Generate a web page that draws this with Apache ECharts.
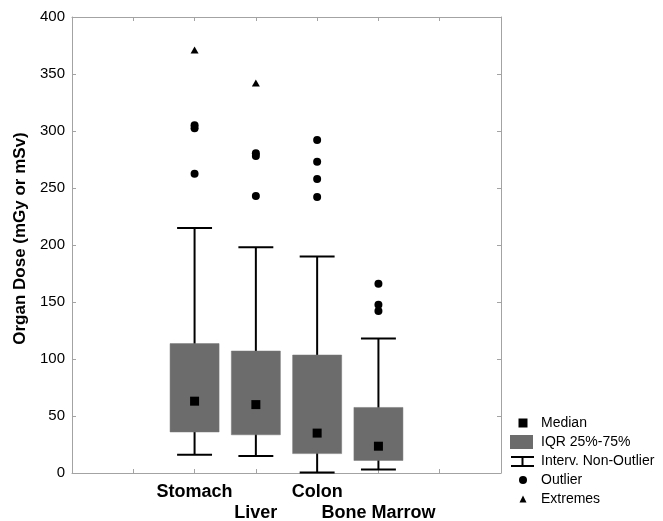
<!DOCTYPE html>
<html>
<head>
<meta charset="utf-8">
<script src="https://cdn.jsdelivr.net/npm/echarts@6/dist/echarts.min.js"></script>
<style>html,body{margin:0;padding:0;background:#fff;}#c{width:663px;height:521px;}</style>
</head>
<body>
<div id="c"></div>
<script>
const categories = ['Stomach', 'Liver', 'Colon', 'Bone Marrow'];
const whiskerLow = [16, 15, 0.5, 3];
const q1 = [36, 33.5, 17, 11];
const median = [63, 60, 35, 23.5];
const q3 = [113.5, 107, 103.5, 57.5];
const whiskerHigh = [215, 198, 190, 118];
const outliers = [[305, 302.5, 262.5], [280.5, 278, 243], [292, 273, 258, 242], [166, 147.5, 142]];
const extremes = [[371], [342], [], []];
const yTicks = [0, 50, 100, 150, 200, 250, 300, 350, 400];

const FONT = '"Liberation Sans", Arial, sans-serif';
const AXIS_GRAY = '#a3a3a3';
const BOX_GRAY = '#6c6c6c';
const pos = i => i + 2;

const whiskerData = categories.map((c, i) => [pos(i), whiskerLow[i], whiskerHigh[i]]);
const boxData = categories.map((c, i) => [pos(i), q1[i], q3[i]]);
const medianData = categories.map((c, i) => [pos(i), median[i]]);
const outlierData = [];
outliers.forEach((arr, i) => arr.forEach(v => outlierData.push([pos(i), v])));
const extremeData = [];
extremes.forEach((arr, i) => arr.forEach(v => extremeData.push([pos(i), v])));

const chart = echarts.init(document.getElementById('c'), null, {renderer: 'canvas'});
const axisLine = {show: true, onZero: false, lineStyle: {color: AXIS_GRAY, width: 1}};
const tickInside = len => ({show: true, inside: true, length: len, lineStyle: {color: AXIS_GRAY, width: 1}});

chart.setOption({
  animation: false,
  backgroundColor: '#fff',
  textStyle: {fontFamily: FONT},
  grid: {left: 72, right: 162, top: 17, bottom: 48, containLabel: false, outerBoundsMode: 'none'},
  xAxis: [{
    type: 'value', min: 0, max: 7, interval: 1,
    axisLine: axisLine, axisTick: tickInside(4), splitLine: {show: false},
    axisLabel: {
      margin: 9, interval: 0, fontFamily: FONT, fontSize: 18, fontWeight: 'bold', color: '#000', lineHeight: 21,
      formatter: v => {
        const i = v - 2;
        if (i < 0 || i >= categories.length) return '';
        return (i % 2 === 1 ? '\n' : '') + categories[i];
      }
    }
  }, {
    type: 'value', position: 'top', min: 0, max: 7, interval: 1,
    axisLine: axisLine, axisTick: tickInside(4), axisLabel: {show: false}, splitLine: {show: false}
  }],
  yAxis: [{
    type: 'value', min: yTicks[0], max: yTicks[yTicks.length - 1], interval: 50,
    name: 'Organ Dose (mGy or mSv)', nameLocation: 'middle', nameRotate: 90, nameGap: 40,
    nameTextStyle: {fontFamily: FONT, fontSize: 17, fontWeight: 'bold', color: '#000', padding: [0, 0, 0, 13]},
    axisLine: axisLine, axisTick: tickInside(4), splitLine: {show: false},
    axisLabel: {margin: 7, fontFamily: FONT, fontSize: 15, color: '#000'}
  }, {
    type: 'value', position: 'right', min: 0, max: 400, interval: 50,
    axisLine: axisLine, axisTick: tickInside(4), axisLabel: {show: false}, splitLine: {show: false}
  }],
  legend: {
    orient: 'vertical', left: 505, top: 411, itemWidth: 26, itemHeight: 14, itemGap: 5,
    textStyle: {fontFamily: FONT, fontSize: 14, color: '#000'},
    selectedMode: false,
    data: [
      {name: 'Median', icon: 'path://M0,0M26,14M8.5,2.5h9v9h-9z', itemStyle: {color: '#000'}},
      {name: 'IQR 25%-75%', icon: 'path://M0,0M26,14M0,0h23v14h-23z', itemStyle: {color: BOX_GRAY}},
      {name: 'Interv. Non-Outlier', icon: 'path://M0,0M26,14M1,2h23v2h-23zM11.5,4h2v7h-2zM1,11h23v2h-23z', itemStyle: {color: '#000'}},
      {name: 'Outlier', icon: 'path://M0,0M26,14M9,7a4,4 0 1,0 8,0a4,4 0 1,0 -8,0z', itemStyle: {color: '#000'}},
      {name: 'Extremes', icon: 'path://M0,0M26,14M13,3.5L16.5,10.5L9.5,10.5z', itemStyle: {color: '#000'}}
    ]
  },
  series: [
    {
      name: 'Interv. Non-Outlier', type: 'custom', data: whiskerData, z: 2,
      itemStyle: {color: '#000'},
      encode: {x: 0, y: [1, 2]},
      renderItem: (params, api) => {
        const x = api.value(0);
        const pLo = api.coord([x, api.value(1)]);
        const pHi = api.coord([x, api.value(2)]);
        const half = api.size([1, 0])[0] * 0.285;
        const st = {stroke: '#000', lineWidth: 2};
        return {type: 'group', children: [
          {type: 'line', shape: {x1: pLo[0], y1: pLo[1], x2: pHi[0], y2: pHi[1]}, style: st},
          {type: 'line', shape: {x1: pLo[0] - half, y1: pLo[1], x2: pLo[0] + half, y2: pLo[1]}, style: st},
          {type: 'line', shape: {x1: pHi[0] - half, y1: pHi[1], x2: pHi[0] + half, y2: pHi[1]}, style: st}
        ]};
      }
    },
    {
      name: 'IQR 25%-75%', type: 'custom', data: boxData, z: 3,
      itemStyle: {color: BOX_GRAY},
      encode: {x: 0, y: [1, 2]},
      renderItem: (params, api) => {
        const x = api.value(0);
        const pLo = api.coord([x, api.value(1)]);
        const pHi = api.coord([x, api.value(2)]);
        const w = api.size([1, 0])[0] * 0.8;
        return {type: 'rect', shape: {x: pLo[0] - w / 2, y: pHi[1], width: w, height: pLo[1] - pHi[1]},
          style: {fill: BOX_GRAY, stroke: '#777', lineWidth: 0.5}};
      }
    },
    {
      name: 'Median', type: 'scatter', data: medianData, z: 4,
      symbol: 'rect', symbolSize: 9, itemStyle: {color: '#000', opacity: 1}
    },
    {
      name: 'Outlier', type: 'scatter', data: outlierData, z: 4,
      symbol: 'circle', symbolSize: 8, itemStyle: {color: '#000', opacity: 1}
    },
    {
      name: 'Extremes', type: 'scatter', data: extremeData, z: 4,
      symbol: 'triangle', symbolSize: [8, 7], itemStyle: {color: '#000', opacity: 1}
    }
  ]
});
</script>
</body>
</html>
